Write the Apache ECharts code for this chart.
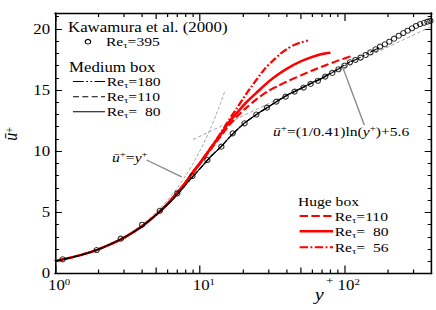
<!DOCTYPE html>
<html><head><meta charset="utf-8">
<script src="https://cdn.jsdelivr.net/npm/echarts@6/dist/echarts.min.js"></script>
<style>
html,body{margin:0;padding:0;background:#fff;overflow:hidden;}
#c{width:363.33px;height:310px;transform:scaleX(1.2);transform-origin:0 0;}
</style>
</head><body><div id="c"></div>
<script>
// ---------------- data ----------------
const kawY = [1.13, 1.94, 2.85, 4.0, 5.3, 7.0, 8.9, 11.3, 14.1, 16.9, 20.4, 24.6, 29.1, 33.8, 39.2, 45.2, 52.2, 58.3, 65.5, 73.6, 82.3, 90.9, 100, 109, 119, 129, 140, 151, 164, 176, 190, 204, 220, 237, 255, 273, 293, 312, 333, 355, 374, 392];
const kawU = [1.16, 1.92, 2.85, 3.99, 5.13, 6.55, 7.97, 9.28, 10.37, 11.46, 12.28, 13.0, 13.56, 14.05, 14.46, 14.87, 15.2, 15.5, 15.76, 16.1, 16.4, 16.7, 17.0, 17.27, 17.46, 17.65, 17.87, 18.09, 18.33, 18.55, 18.74, 18.95, 19.2, 19.44, 19.66, 19.85, 20.05, 20.24, 20.4, 20.5, 20.59, 20.65];

const med180Y = [1, 1.5, 2, 3, 4, 5, 6, 7, 8, 9, 10, 12, 14, 16, 20, 25, 30, 35, 40, 50, 60, 70, 80, 90, 100, 110, 120, 140, 160, 180];
const med180U = [1.0, 1.5, 1.98, 2.93, 3.85, 4.8, 5.65, 6.45, 7.25, 7.95, 8.55, 9.6, 10.35, 11.12, 12.22, 13.05, 13.65, 14.15, 14.55, 15.12, 15.58, 15.95, 16.33, 16.7, 17.0, 17.3, 17.5, 17.9, 18.25, 18.55];
const med110Y = [1, 1.5, 2, 3, 4, 5, 6, 7, 8, 9, 10, 12, 14, 16, 20, 25, 30, 35, 40, 50, 60, 70, 80, 90, 100, 110];
const med110U = [1.0, 1.5, 1.98, 2.93, 3.85, 4.8, 5.65, 6.45, 7.25, 7.95, 8.55, 9.6, 10.35, 11.12, 12.22, 13.05, 13.65, 14.15, 14.55, 15.12, 15.58, 15.95, 16.35, 16.72, 17.05, 17.35];
const med80Y = [1, 1.5, 2, 3, 4, 5, 6, 7, 8, 9, 10, 12, 14, 16, 20, 25, 30, 35, 40, 50, 60, 70, 80];
const med80U = [1.0, 1.5, 1.98, 2.93, 3.85, 4.8, 5.65, 6.45, 7.25, 7.95, 8.55, 9.6, 10.35, 11.12, 12.22, 13.05, 13.65, 14.15, 14.58, 15.15, 15.62, 16.0, 16.4];

const huge110Y = [1, 1.5, 2, 3, 4, 5, 6, 7, 8, 9, 10, 12, 14, 16, 18, 21, 25, 30, 35, 40, 50, 60, 75, 90, 110];
const huge110U = [1.0, 1.5, 1.98, 2.93, 3.87, 4.8, 5.7, 6.6, 7.45, 8.25, 8.95, 10.2, 11.25, 12.15, 12.8, 13.55, 14.3, 14.95, 15.35, 15.7, 16.2, 16.6, 17.05, 17.4, 17.75];
const huge80Y = [1, 1.5, 2, 3, 4, 5, 6, 7, 8, 9, 10, 12, 14, 16, 18, 21, 25, 30, 35, 40, 50, 60, 70, 80];
const huge80U = [1.0, 1.5, 1.98, 2.93, 3.87, 4.8, 5.7, 6.6, 7.45, 8.3, 9.0, 10.3, 11.4, 12.4, 13.1, 14.0, 14.85, 15.7, 16.3, 16.75, 17.35, 17.72, 17.95, 18.05];
const huge56Y = [1, 1.5, 2, 3, 4, 5, 6, 7, 8, 9, 10, 12, 14, 16, 18, 21, 24, 28, 32, 36, 40, 45, 50, 56];
const huge56U = [1.0, 1.5, 1.98, 2.93, 3.87, 4.8, 5.7, 6.6, 7.45, 8.3, 9.0, 10.35, 11.5, 12.6, 13.5, 14.7, 15.65, 16.7, 17.4, 17.95, 18.35, 18.7, 18.9, 19.05];

// reference laws
const linLawY = [1, 2, 3, 4, 5, 6, 7, 8, 9, 10, 11, 12, 13, 14, 15];
const linLawU = [1, 2, 3, 4, 5, 6, 7, 8, 9, 10, 11, 12, 13, 14, 15];
const logLawY = [9, 400];
const logLawU = [10.96, 20.21];

// annotation arrows [y+, u+] tail -> head
const arrowLin = [[4.3, 9.28], [7.5, 7.9]];
const arrowLog = [[137, 12.14], [97, 16.9]];

// axis
const X_MIN = 1, X_MAX = 400, Y_MIN = 0, Y_MAX = 21.3;
const xMinorTicks = [2, 3, 4, 5, 6, 7, 8, 9, 20, 30, 40, 50, 60, 70, 80, 90, 200, 300];
const xMidTicks = [5, 50];

// ---------------- styles ----------------
const F = 'Liberation Serif';
const S = {
  med180: {color: '#000', width: 1, dash: [9, 2, 1.5, 2, 1.5, 2]},
  med110: {color: '#000', width: 1, dash: [5, 2.8]},
  med80: {color: '#000', width: 1, dash: null},
  huge110: {color: '#ff0000', width: 2, dash: [7, 2.8]},
  huge80: {color: '#ff0000', width: 2.4, dash: null},
  huge56: {color: '#ff0000', width: 2, dash: [7, 2, 1.6, 2]},
  ref: {color: '#9a9a9a', width: 0.8, dash: [3, 2]}
};
const zip = (a, b) => a.map((v, i) => [v, b[i]]);

function lineSeries(name, xs, ys, st, z) {
  return {
    name: name, type: 'line', data: zip(xs, ys), showSymbol: false, symbol: 'none',
    smooth: 0.25, z: z, silent: true,
    lineStyle: {color: st.color, width: st.width, type: st.dash ? st.dash : 'solid'}
  };
}

const richText = {
  r: {fontFamily: F, fontSize: 13, lineHeight: 16, color: '#000'},
  h: {fontFamily: F, fontSize: 14, lineHeight: 16, color: '#000'},
  t: {fontFamily: F, fontSize: 9, lineHeight: 6, verticalAlign: 'bottom', color: '#000'},
  i: {fontFamily: F, fontSize: 13, lineHeight: 16, fontStyle: 'italic', color: '#000'},
  s: {fontFamily: F, fontSize: 9, lineHeight: 4, verticalAlign: 'top', color: '#000'}
};
function txt(x, y, text, extra) {
  return Object.assign({
    type: 'text', x: x, y: y, z: 100, silent: true,
    style: {text: text, rich: richText, align: 'left', verticalAlign: 'middle', fill: '#000', font: '13px "Liberation Serif"'}
  }, extra || {});
}
function legLine(x1, x2, y, st) {
  return {type: 'line', z: 100, silent: true,
    shape: {x1: x1, y1: y, x2: x2, y2: y},
    style: {stroke: st.color, lineWidth: st.width, lineDash: st.dash}};
}
const NB = '\u00a0\u00a0';

const graphics = [
  txt(56.7, 27.5, '{h|Kawamura et al. (2000)}'),
  {type: 'circle', z: 100, silent: true, shape: {cx: 73.3, cy: 41.7, r: 2.3}, style: {fill: 'none', stroke: '#000', lineWidth: 1}},
  txt(88.3, 41.7, '{r|Re}{t|τ}{r|=395}'),
  txt(57.5, 66.7, '{h|Medium box}'),
  legLine(60.8, 87.5, 81.5, S.med180), txt(88.9, 81.5, '{r|Re}{t|τ}{r|=180}'),
  legLine(60.8, 87.5, 96.7, S.med110), txt(88.9, 96.7, '{r|Re}{t|τ}{r|=110}'),
  legLine(60.8, 87.5, 111.7, S.med80), txt(88.9, 111.7, '{r|Re}{t|τ}{r|=' + NB + '80}'),
  txt(248.3, 201.7, '{r|Huge box}'),
  legLine(249.7, 277.5, 216, S.huge110), txt(278.9, 216, '{r|Re}{t|τ}{r|=110}'),
  legLine(249.7, 277.5, 231.3, S.huge80), txt(278.9, 231.3, '{r|Re}{t|τ}{r|=' + NB + '80}'),
  legLine(249.7, 277.5, 247.3, S.huge56), txt(278.9, 247.3, '{r|Re}{t|τ}{r|=' + NB + '56}'),
  // annotations
  txt(93.3, 157, '{i|ū}{s|+}{r|=}{i|y}{s|+}'),
  txt(227.5, 131.5, '{i|ū}{s|+}{r|=(1/0.41)ln(}{i|y}{s|+}{r|)+5.6}'),
  // axis titles
  {type: 'text', x: 262.2, y: 294, z: 100, silent: true, style: {text: 'y', font: 'italic 17px "Liberation Serif"', fill: '#000', align: 'left', verticalAlign: 'middle'}},
  {type: 'text', x: 271.7, y: 280, z: 100, silent: true, style: {text: '+', font: '11px "Liberation Serif"', fill: '#000', align: 'left', verticalAlign: 'middle'}},
  {type: 'text', x: 8.8, y: 134, z: 100, silent: true, rotation: Math.PI / 2,
    style: {text: '{u|ū}{p|+}', align: 'center', verticalAlign: 'middle',
      rich: {u: {fontFamily: F, fontSize: 16, lineHeight: 12, fontStyle: 'italic', color: '#000'},
             p: {fontFamily: F, fontSize: 10, lineHeight: 10, verticalAlign: 'top', color: '#000'}}}}
];

const axisLineStyle = {color: '#000', width: 1.3};
const tickStyle = {color: '#000', width: 1};

const option = {
  animation: false,
  backgroundColor: '#fff',
  grid: {left: 45.8, right: 3.3, top: 13, bottom: 36.5, containLabel: false},
  xAxis: [
    {type: 'log', logBase: 10, min: X_MIN, max: X_MAX, position: 'bottom',
      axisLine: {show: true, onZero: false, lineStyle: axisLineStyle},
      axisTick: {show: true, inside: true, length: 8, lineStyle: tickStyle},
      splitLine: {show: false},
      axisLabel: {show: true, margin: 4, showMaxLabel: false, padding: [0, 0, 0, 7],
        formatter: function (v) { return '{b|10}{s|' + Math.round(Math.log10(v)) + '}'; },
        rich: {b: {fontFamily: F, fontSize: 14, lineHeight: 16, color: '#000'},
               s: {fontFamily: F, fontSize: 9, lineHeight: 6, verticalAlign: 'top', color: '#000'}}}},
    {type: 'log', logBase: 10, min: X_MIN, max: X_MAX, position: 'top',
      axisLine: {show: true, onZero: false, lineStyle: axisLineStyle},
      axisTick: {show: true, inside: true, length: 8, lineStyle: tickStyle},
      splitLine: {show: false}, axisLabel: {show: false}}
  ],
  yAxis: [
    {type: 'value', min: Y_MIN, max: Y_MAX, interval: 5, position: 'left',
      axisLine: {show: true, onZero: false, lineStyle: axisLineStyle},
      axisTick: {show: true, inside: true, length: 5.8, lineStyle: tickStyle},
      splitLine: {show: false},
      axisLabel: {show: true, margin: 4, showMaxLabel: false, fontFamily: F, fontSize: 14, color: '#000'}},
    {type: 'value', min: Y_MIN, max: Y_MAX, interval: 1, position: 'left',
      axisLine: {show: false}, axisTick: {show: true, inside: true, length: 3.3, lineStyle: tickStyle},
      splitLine: {show: false}, axisLabel: {show: false}},
    {type: 'value', min: Y_MIN, max: Y_MAX, interval: 5, position: 'right',
      axisLine: {show: true, onZero: false, lineStyle: axisLineStyle},
      axisTick: {show: true, inside: true, length: 5.8, lineStyle: tickStyle},
      splitLine: {show: false}, axisLabel: {show: false}},
    {type: 'value', min: Y_MIN, max: Y_MAX, interval: 1, position: 'right',
      axisLine: {show: false}, axisTick: {show: true, inside: true, length: 3.3, lineStyle: tickStyle},
      splitLine: {show: false}, axisLabel: {show: false}}
  ],
  series: [
    Object.assign(lineSeries('linLaw', linLawY, linLawU, S.ref, 1), {
      markLine: {silent: true, symbol: ['none', 'arrow'], symbolSize: [0, 8], label: {show: false},
        lineStyle: {color: '#8c8c8c', width: 1.2, type: 'solid'},
        data: [[{coord: arrowLin[0]}, {coord: arrowLin[1]}]]}}),
    Object.assign(lineSeries('logLaw', logLawY, logLawU, S.ref, 1), {
      smooth: false,
      markLine: {silent: true, symbol: ['none', 'arrow'], symbolSize: [0, 8], label: {show: false},
        lineStyle: {color: '#8c8c8c', width: 1.2, type: 'solid'},
        data: [[{coord: arrowLog[0]}, {coord: arrowLog[1]}]]}}),
    lineSeries('huge110', huge110Y, huge110U, S.huge110, 2),
    lineSeries('huge80', huge80Y, huge80U, S.huge80, 2),
    lineSeries('huge56', huge56Y, huge56U, S.huge56, 2),
    lineSeries('med180', med180Y, med180U, S.med180, 3),
    lineSeries('med110', med110Y, med110U, S.med110, 3),
    lineSeries('med80', med80Y, med80U, S.med80, 3),
    {name: 'kaw', type: 'scatter', data: zip(kawY, kawU), symbol: 'circle', symbolSize: [4.4, 5], z: 4, silent: true,
      itemStyle: {color: 'rgba(0,0,0,0)', borderColor: '#000', borderWidth: 1}},
    {name: 'xticks', type: 'custom', z: 10, silent: true, clip: false,
      data: xMinorTicks.map(v => [v, 0]),
      encode: {x: 0, y: 1},
      renderItem: function (params, api) {
        const v = api.value(0);
        const b = api.coord([v, Y_MIN]);
        const t = api.coord([v, Y_MAX]);
        const len = xMidTicks.indexOf(v) >= 0 ? 6 : 4;
        return {type: 'group', children: [
          {type: 'line', shape: {x1: b[0], y1: b[1], x2: b[0], y2: b[1] - len}, style: {stroke: '#000', lineWidth: 1}},
          {type: 'line', shape: {x1: t[0], y1: t[1], x2: t[0], y2: t[1] + len}, style: {stroke: '#000', lineWidth: 1}}
        ]};
      }}
  ],
  graphic: graphics
};

const chart = echarts.init(document.getElementById('c'), null, {renderer: 'svg'});
chart.setOption(option);
</script>
</body></html>
